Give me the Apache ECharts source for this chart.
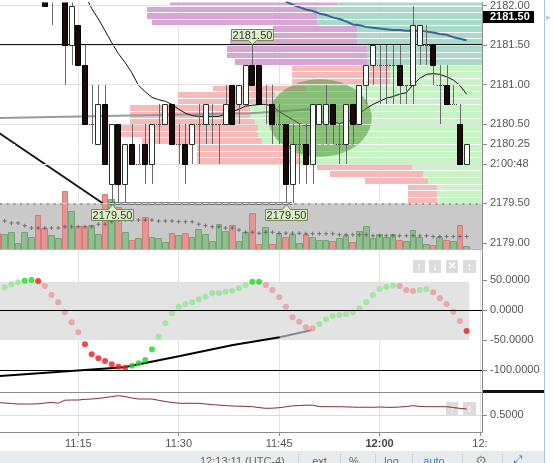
<!DOCTYPE html>
<html>
<head>
<meta charset="utf-8">
<script src="https://cdn.jsdelivr.net/npm/echarts@6.0.0/dist/echarts.min.js"></script>
<style>
html,body{margin:0;padding:0;background:#ffffff;}
#chart{width:553px;height:463px;}
</style>
</head>
<body>
<div id="chart"></div>
<script>
// ---------- DATA (x values are minutes after 11:00; first bar is 11:03) ----------
const firstMinute = 3;
const candleOpen  = [2182.75,2182.5,2182.75,2183.0,2183.0,2183.0,2183.25,2182.5,2182.25,2182.25,2182.25,2181.5,2181.75,2181.25,2180.5,2180.25,2180.75,2179.75,2180.5,2179.75,2180.25,2180.0,2180.25,2180.0,2180.5,2180.5,2180.75,2180.25,2180.25,2180.25,2180.5,2180.5,2180.5,2180.5,2180.5,2181.0,2180.75,2180.75,2181.25,2181.25,2180.75,2180.75,2180.5,2180.5,2179.75,2180.25,2180.25,2180.0,2180.5,2180.5,2180.75,2180.25,2180.25,2180.75,2180.5,2181.0,2181.25,2181.25,2181.25,2181.25,2181.25,2181.0,2181.0,2181.5,2181.5,2181.5,2181.0,2181.0,2180.75,2180.5,2180.0];
const candleHigh  = [2183.0,2182.75,2183.0,2183.25,2183.25,2183.5,2183.25,2182.5,2182.5,2182.75,2182.5,2182.25,2181.75,2181.5,2181.0,2181.0,2181.0,2180.5,2180.5,2180.25,2180.5,2180.25,2180.5,2180.5,2180.75,2180.75,2180.75,2180.5,2180.5,2180.5,2180.75,2180.75,2180.75,2180.5,2181.0,2181.0,2181.0,2181.25,2181.5,2181.25,2181.0,2181.0,2180.75,2180.5,2180.5,2180.5,2180.5,2180.75,2180.75,2181.0,2180.75,2180.5,2180.75,2180.75,2181.0,2181.25,2181.5,2181.5,2181.5,2181.5,2181.5,2181.0,2182.0,2181.75,2181.75,2181.5,2181.25,2181.25,2181.0,2180.75,2180.25];
const candleLow   = [2182.25,2182.5,2182.5,2182.75,2182.75,2183.0,2182.5,2182.0,2181.75,2182.25,2181.0,2181.25,2181.25,2180.5,2180.25,2180.25,2180.0,2179.5,2179.5,2179.5,2180.0,2180.0,2179.75,2179.75,2180.25,2180.5,2180.25,2180.0,2179.75,2180.0,2180.0,2180.25,2180.25,2180.0,2180.5,2180.5,2180.5,2180.75,2181.0,2180.75,2180.5,2180.25,2180.25,2179.5,2179.5,2179.75,2179.75,2179.75,2180.5,2180.25,2180.25,2180.0,2180.0,2180.25,2180.5,2180.75,2181.0,2180.75,2180.75,2180.75,2180.75,2180.75,2180.75,2181.25,2181.25,2181.0,2180.5,2180.75,2180.75,2180.0,2180.0];
const candleClose = [2182.5,2182.75,2183.0,2183.0,2183.25,2183.25,2182.5,2182.0,2182.5,2182.5,2181.5,2182.0,2181.25,2180.5,2180.5,2180.75,2180.0,2180.5,2179.75,2180.25,2180.0,2180.0,2180.0,2180.5,2180.5,2180.75,2180.25,2180.25,2180.0,2180.5,2180.5,2180.75,2180.5,2180.5,2180.75,2180.5,2181.0,2181.25,2181.0,2180.75,2180.75,2180.5,2180.5,2179.75,2180.25,2180.25,2180.0,2180.75,2180.75,2180.75,2180.5,2180.25,2180.75,2180.5,2181.0,2181.25,2181.5,2181.25,2181.25,2181.25,2181.0,2181.0,2181.75,2181.75,2181.5,2181.25,2181.0,2180.75,2180.75,2180.0,2180.25];
const volume      = [163,153,170,60,170,120,343,210,143,116,583,383,233,233,243,153,553,510,426,170,93,110,326,126,110,66,166,143,166,126,203,153,76,253,183,243,83,170,360,50,220,50,160,126,150,60,153,120,93,93,76,110,143,66,183,233,116,153,126,153,93,76,193,126,50,43,126,86,76,243,26];
const volumeAvg   = [null,283,263,263,236,213,213,213,213,213,226,226,226,226,226,250,250,276,293,293,293,293,293,293,283,283,283,276,276,276,250,236,226,226,213,213,193,170,170,160,170,170,160,160,160,160,153,153,153,153,153,143,143,143,143,143,133,133,133,133,133,133,133,133,133,126,126,126,126,126,126];
const cciValues   = [null,37.8,42.8,46.2,48.8,50,48.3,40,25,12.8,-3.8,-20.5,-37.2,-57.2,-73.8,-80.5,-85,-90.5,-94.5,-96.2,-92.8,-88.8,-83.3,-65.5,-44.5,-22.2,-5.5,5.5,9.5,12.8,17.8,22.2,27.8,27.8,30.5,32.2,36.2,41.7,47.2,47.2,41.7,33.3,21.3,5.5,-12.2,-19.5,-28.8,-30.5,-23.3,-15.5,-10,-8.3,-6.7,-3.8,2.8,12.8,25,35,38.8,40.5,40,33.3,31.7,33.3,34.5,29.5,19.5,10,-2.8,-18.3,-35];
const lowerValues = [0.624,0.62,0.615,0.61,0.61,0.61,0.612,0.62,0.626,0.618,0.648,0.65,0.65,0.657,0.66,0.666,0.674,0.684,0.693,0.685,0.67,0.66,0.66,0.66,0.647,0.635,0.625,0.618,0.617,0.617,0.617,0.61,0.604,0.599,0.594,0.59,0.588,0.586,0.583,0.574,0.567,0.568,0.573,0.582,0.591,0.595,0.598,0.598,0.584,0.583,0.583,0.583,0.581,0.579,0.577,0.578,0.577,0.58,0.577,0.577,0.58,0.585,0.593,0.586,0.583,0.583,0.583,0.583,0.575,0.566,0.56];
const maFastStart = 16;
const maFast = [2182.14,2181.96,2181.83,2181.68,2181.53,2181.39,2181.28,2181.15,2180.99,2180.91,2180.84,2180.81,2180.79,2180.75,2180.69,2180.64,2180.61,2180.60,2180.60,2180.60,2180.60,2180.63,2180.66,2180.69,2180.73,2180.74,2180.75,2180.75,2180.73,2180.66,2180.61,2180.56,2180.51,2180.48,2180.50,2180.53,2180.53,2180.53,2180.51,2180.53,2180.56,2180.63,2180.70,2180.75,2180.79,2180.83,2180.85,2180.88,2180.90,2181.00,2181.08,2181.13,2181.14,2181.13,2181.10,2181.06,2180.99,2180.88];
const maSlowStart = 46;
const maSlow = [2182.05,2182.01,2181.98,2181.95,2181.93,2181.90,2181.88,2181.85,2181.83,2181.80,2181.76,2181.75,2181.73,2181.72,2181.71,2181.70,2181.69,2181.69,2181.68,2181.68,2181.68,2181.67,2181.66,2181.64,2181.63,2181.60,2181.58,2181.56];
// volume profile rows (bottom price, 1/12 point per row): sell part and buy part
const profileBase = 2179.5;
const profileStep = 1 / 12;
const profileSell = [29,29,29,63,93,95,103,103,93,120,141,141,125,120,120,97,97,92,98,98,98,132,140,140,127,125,84,165,170,170,167];
const profileBuy  = [45,45,45,54,59,70,182,182,192,220,224,224,227,232,232,207,207,177,92,92,92,115,115,115,125,125,125,165,165,165,145];
// drawings
const levelTop = [[3.0, 2181.5], [75.3, 2181.5]];
const levelBottom = [[19.7, 2179.5], [46.9, 2179.5]];
const diagonal = [[3.0, 2180.40], [18.7, 2179.5]];
const grayTrend = [[3.0, 2180.58], [40.6, 2180.64], [49.6, 2180.69]];
const ellipseZone = [[51.1, 2180.58, 7.72, 0.49]];
const priceFlags = [[41, 2181.5, 1], [20, 2179.5, -1], [46, 2179.5, -1]];
const cciTrendDark = [[3.0, -110.2], [21.8, -95.5], [30.2, -76.7], [38.1, -58.3], [45.1, -45.5]];
const cciTrendLight = [[45.1, -45.5], [49.9, -33.3]];
const cciBand = [47, -50];
const lastPrice = 2180.25;
const priceTicks = [2179, 2179.5, 2180, 2180.25, 2180.5, 2181, 2181.5, 2182];
const priceGrid = [2179.5, 2180, 2180.5, 2181, 2181.5, 2182];
const cciTicks = [50, 0, -50, -100];
const lowerTicks = [0.5];
const timeTicks = [15, 30, 45, 60, 75];
const sideTags = [[2181.85, '2181.50'], [2180.0, '00:48']];

// ---------- LAYOUT ----------
const X_MIN = 3.305, X_MAX = 75.3;
const P_MIN = 2178.925, P_MAX = 2182.0375;
const FONT = 'Liberation Sans, Arial, sans-serif';
const idx = i => firstMinute + i;

const candleData = candleOpen.map((o, i) => [idx(i), o, candleHigh[i], candleLow[i], candleClose[i]]);
const volData = volume.map((v, i) => [idx(i), v, candleClose[i] >= candleOpen[i] ? 1 : 0]);
const volAvgData = volumeAvg.map((v, i) => [idx(i), v]);
const lowerData = lowerValues.map((v, i) => [idx(i), v]);
const maFastData = maFast.map((v, i) => [maFastStart + i, v]);
const maSlowData = maSlow.map((v, i) => [maSlowStart + i, v]);
const profileData = profileSell.map((s, k) => [profileBase + k * profileStep, profileBase + (k + 1) * profileStep, profileBuy[k], s]);

const cciData = [];
cciValues.forEach((v, i) => {
  if (v == null) return;
  const prev = i > 0 && cciValues[i - 1] != null ? cciValues[i - 1] : v - 1;
  const up = v >= prev;
  const strong = v > 47 || v < -50 || i === cciValues.length - 1;
  const color = up ? (strong ? '#1fd61f' : '#93e393') : (strong ? '#f01a1a' : '#e79a9a');
  cciData.push({value: [idx(i), v], itemStyle: {color: color}});
});

function timeLabel(v) {
  const m = Math.round(v);
  if (m === 75) return '12:';
  const h = 11 + Math.floor(m / 60), mm = m % 60;
  const s = h + ':' + String(mm).padStart(2, '0');
  return mm === 0 ? '{b|' + s + '}' : s;
}

function renderCandle(params, api) {
  const t = api.value(0), o = api.value(1), h = api.value(2), l = api.value(3), c = api.value(4);
  const pH = api.coord([t, h]), pL = api.coord([t, l]), pO = api.coord([t, o]), pC = api.coord([t, c]);
  const x = Math.round(pH[0]) + 0.5;
  const kids = [{type: 'line', shape: {x1: x, y1: Math.round(pH[1]), x2: x, y2: Math.round(pL[1])}, style: {stroke: '#6a6a6a', lineWidth: 1}}];
  if (o === c) {
    const y = Math.round(pO[1]) + 0.5;
    kids.push({type: 'line', shape: {x1: x - 3.5, y1: y, x2: x + 3.5, y2: y}, style: {stroke: '#444', lineWidth: 1, lineDash: [1, 1]}});
  } else {
    const y1 = Math.round(Math.min(pO[1], pC[1])) + 0.5, y2 = Math.round(Math.max(pO[1], pC[1])) + 0.5;
    const up = c > o;
    kids.push({type: 'rect', shape: {x: x - 3, y: y1, width: 5, height: y2 - y1},
      style: {fill: up ? '#ffffff' : '#1c0a0a', stroke: up ? '#243424' : '#000', lineWidth: 1}});
  }
  return {type: 'group', children: kids};
}

function renderVolume(params, api) {
  const t = api.value(0), v = api.value(1), up = api.value(2);
  const a = api.coord([t - 0.5, 0]), b = api.coord([t + 0.5, v]);
  const x0 = Math.round(a[0]) + 0.5, x1 = Math.round(b[0]) - 0.5;
  const y0 = Math.round(a[1]), y1 = Math.round(b[1]) + 0.5;
  return {type: 'rect', shape: {x: x0, y: y1, width: x1 - x0, height: y0 - y1 + 1},
    style: {fill: up ? '#8fbd8f' : '#e69595', stroke: up ? '#74a574' : '#d27c7c', lineWidth: 1}};
}

function renderProfile(params, api) {
  const lo = api.value(0), hi = api.value(1), buy = api.value(2), sell = api.value(3);
  const r = api.coord([0, lo]), m = api.coord([buy, hi]), l = api.coord([buy + sell, hi]);
  const yTop = Math.round(m[1]) + 1, yBot = Math.round(r[1]);
  const upper = lo >= 2181.25 - 1e-6;
  return {type: 'group', children: [
    {type: 'rect', shape: {x: Math.round(m[0]), y: yTop, width: Math.round(r[0]) - Math.round(m[0]), height: yBot - yTop},
      style: {fill: upper ? '#a9d9c8' : '#c8f3c5'}},
    {type: 'rect', shape: {x: Math.round(l[0]), y: yTop, width: Math.round(m[0]) - Math.round(l[0]), height: yBot - yTop},
      style: {fill: upper ? '#d9a5d5' : '#f7baba'}}
  ]};
}

function renderEllipse(params, api) {
  const c = api.coord([api.value(0), api.value(1)]);
  const s = api.size([api.value(2), api.value(3)]);
  return {type: 'ellipse', shape: {cx: c[0], cy: c[1], rx: s[0], ry: s[1]}, style: {fill: 'rgba(80,150,55,0.55)'}};
}

function renderFlag(params, api) {
  const t = api.value(0), p = api.value(1), dir = api.value(2);
  const c = api.coord([t, p]);
  const x = Math.round(c[0]) + 0.5, y = Math.round(c[1]) + 0.5;
  const w = 21, tipGap = 1;
  let pts, ty;
  if (dir > 0) {
    const b = y - 5, tp = y - 16;
    pts = [[x - w, tp], [x + w, tp], [x + w, b], [x + 4, b], [x, y - tipGap], [x - 4, b], [x - w, b]];
    ty = (tp + b) / 2;
  } else {
    const tp = y + 6, b = y + 17;
    pts = [[x - w, tp], [x - 4, tp], [x, y + tipGap], [x + 4, tp], [x + w, tp], [x + w, b], [x - w, b]];
    ty = (tp + b) / 2;
  }
  return {type: 'group', children: [
    {type: 'polygon', shape: {points: pts}, style: {fill: '#dcf0c8', stroke: '#6f8f52', lineWidth: 1}},
    {type: 'text', style: {text: p.toFixed(2), x: x, y: ty + 0.5, fill: '#333', font: '11px ' + FONT, align: 'center', verticalAlign: 'middle'}}
  ]};
}

function renderSideTag(params, api) {
  const p = api.coord([X_MAX, api.value(1)]);
  const y = Math.round(p[1]);
  const text = sideTags[params.dataIndex][1];
  if (params.dataIndex === 0) {
    return {type: 'group', children: [
      {type: 'rect', shape: {x: p[0] + 1, y: y - 6, width: 51, height: 12}, style: {fill: '#000'}},
      {type: 'text', style: {text: text, x: p[0] + 8, y: y, fill: '#fff', font: 'bold 11px ' + FONT, verticalAlign: 'middle'}}
    ]};
  }
  return {type: 'group', children: [
    {type: 'rect', shape: {x: p[0] + 17, y: y - 7, width: 34, height: 14}, style: {fill: '#fff'}},
    {type: 'text', style: {text: text, x: p[0] + 19, y: y, fill: '#555', font: '11px ' + FONT, verticalAlign: 'middle'}}
  ]};
}

const axisGray = '#8c8c8c';
const gridLineColor = '#e3e3e3';
const labelStyle = {color: '#555', fontSize: 11, fontFamily: FONT};

function timeAxis(grid, withLabels) {
  return {
    gridIndex: grid, type: 'value', min: X_MIN, max: X_MAX,
    axisLine: {show: withLabels, onZero: false, lineStyle: {color: axisGray}},
    axisTick: {show: withLabels, customValues: timeTicks, length: 4, lineStyle: {color: axisGray}},
    axisLabel: Object.assign({show: withLabels, customValues: timeTicks, formatter: timeLabel, margin: 6,
      rich: {b: {fontWeight: 'bold', color: '#444', fontSize: 11, fontFamily: FONT}}}, labelStyle),
    splitLine: {show: true, lineStyle: {color: gridLineColor}}
  };
}

const option = {
  animation: false,
  backgroundColor: '#ffffff',
  textStyle: {fontFamily: FONT},
  grid: [
    {left: 0, top: 0, width: 482, height: 249},
    {left: 0, top: 250, width: 482, height: 142},
    {left: 0, top: 392, width: 482, height: 40}
  ],
  xAxis: [
    timeAxis(0, false),
    timeAxis(1, false),
    timeAxis(2, true),
    {gridIndex: 0, type: 'value', min: 0, max: 482, inverse: true, show: false}
  ],
  yAxis: [
    {gridIndex: 0, type: 'value', position: 'right', min: P_MIN, max: P_MAX,
      axisLine: {show: true, lineStyle: {color: axisGray}},
      axisTick: {show: true, length: 5, customValues: priceTicks, lineStyle: {color: axisGray}},
      axisLabel: Object.assign({customValues: priceTicks, formatter: v => v.toFixed(2), margin: 8}, labelStyle),
      splitLine: {show: false}},
    {gridIndex: 0, type: 'value', min: 0, max: 2490, show: false},
    {gridIndex: 1, type: 'value', position: 'right', min: -136.67, max: 100,
      axisLine: {show: true, lineStyle: {color: axisGray}},
      axisTick: {show: true, length: 5, customValues: cciTicks, lineStyle: {color: axisGray}},
      axisLabel: Object.assign({customValues: cciTicks, formatter: v => v.toFixed(4), margin: 8}, labelStyle),
      splitLine: {show: false}},
    {gridIndex: 2, type: 'value', position: 'right', min: 0.33, max: 0.73,
      axisLine: {show: true, lineStyle: {color: axisGray}},
      axisTick: {show: true, length: 5, customValues: lowerTicks, lineStyle: {color: axisGray}},
      axisLabel: Object.assign({customValues: lowerTicks, formatter: v => v.toFixed(4), margin: 8}, labelStyle),
      splitLine: {show: false}}
  ],
  series: [
    // main-panel gridlines and volume band
    {type: 'line', xAxisIndex: 0, yAxisIndex: 0, data: [], z: 0, silent: true,
      markLine: {silent: true, symbol: 'none', label: {show: false},
        lineStyle: {color: gridLineColor, type: 'solid', width: 1},
        data: priceGrid.map(p => ({yAxis: p}))}},
    {type: 'custom', name: 'profile', xAxisIndex: 3, yAxisIndex: 0, z: 1, silent: true,
      renderItem: renderProfile, data: profileData, clip: true},
    {type: 'line', xAxisIndex: 0, yAxisIndex: 0, data: [], z: 1.5, silent: true,
      markArea: {silent: true, itemStyle: {color: '#c9c9c9'},
        data: [[{xAxis: X_MIN, yAxis: 2179.5}, {xAxis: X_MAX, yAxis: P_MIN}]]},
      markLine: {silent: true, symbol: 'none', label: {show: false},
        lineStyle: {color: '#9a9a9a', type: [2, 4.7], width: 2},
        data: [{yAxis: 2179.5}]}},
    {type: 'custom', name: 'volume', xAxisIndex: 0, yAxisIndex: 1, z: 2, silent: true,
      renderItem: renderVolume, data: volData, clip: true},
    {type: 'scatter', name: 'volume avg', xAxisIndex: 0, yAxisIndex: 1, z: 3, silent: true,
      symbol: 'path://M1.5,0h1v1.5h1.5v1h-1.5v1.5h-1v-1.5h-1.5v-1h1.5z', symbolSize: 4,
      itemStyle: {color: '#5a5a5a'}, data: volAvgData},
    {type: 'line', name: 'level top', xAxisIndex: 0, yAxisIndex: 0, z: 3, data: levelTop,
      showSymbol: false, lineStyle: {color: '#151515', width: 2}},
    {type: 'line', name: 'level bottom', xAxisIndex: 0, yAxisIndex: 0, z: 3, data: levelBottom,
      showSymbol: false, lineStyle: {color: '#151515', width: 2}},
    {type: 'line', name: 'diagonal', xAxisIndex: 0, yAxisIndex: 0, z: 3, data: diagonal,
      showSymbol: false, lineStyle: {color: '#151515', width: 2}},
    {type: 'line', name: 'gray trend', xAxisIndex: 0, yAxisIndex: 0, z: 3, data: grayTrend,
      showSymbol: false, lineStyle: {color: '#9a9a9a', width: 2}},
    {type: 'line', name: 'ma fast', xAxisIndex: 0, yAxisIndex: 0, z: 3, data: maFastData,
      showSymbol: false, lineStyle: {color: '#111', width: 1}},
    {type: 'line', name: 'ma slow', xAxisIndex: 0, yAxisIndex: 0, z: 3, data: maSlowData,
      showSymbol: false, lineStyle: {color: '#36659a', width: 2}},
    {type: 'custom', name: 'zone', xAxisIndex: 0, yAxisIndex: 0, z: 4, silent: true,
      renderItem: renderEllipse, data: ellipseZone, clip: true},
    {type: 'custom', name: 'candles', xAxisIndex: 0, yAxisIndex: 0, z: 5, silent: true,
      renderItem: renderCandle, data: candleData, clip: true},
    {type: 'line', name: 'last', xAxisIndex: 0, yAxisIndex: 0, data: [], z: 6, silent: true,
      markLine: {silent: true, symbol: 'none', label: {show: false},
        lineStyle: {color: '#ffffff', type: [3, 3], width: 1},
        data: [{yAxis: lastPrice}]}},
    {type: 'custom', name: 'flags', xAxisIndex: 0, yAxisIndex: 0, z: 7, silent: true,
      renderItem: renderFlag, data: priceFlags, clip: false},
    {type: 'custom', name: 'tags', xAxisIndex: 0, yAxisIndex: 0, z: 8, silent: true,
      renderItem: renderSideTag, data: sideTags.map(d => [X_MAX, d[0]]), clip: false},
    // panel 2
    {type: 'line', xAxisIndex: 1, yAxisIndex: 2, data: [], z: 1, silent: true,
      markArea: {silent: true, itemStyle: {color: '#e3e3e3'},
        data: [[{xAxis: X_MIN, yAxis: cciBand[0]}, {xAxis: 73.4, yAxis: cciBand[1]}]]},
      markLine: {silent: true, symbol: 'none', label: {show: false},
        lineStyle: {color: '#000', type: 'solid', width: 1},
        data: [{yAxis: 0}, {yAxis: -100}]}},
    {type: 'line', xAxisIndex: 1, yAxisIndex: 2, z: 3, data: cciTrendDark, showSymbol: false,
      lineStyle: {color: '#000', width: 2}},
    {type: 'line', xAxisIndex: 1, yAxisIndex: 2, z: 3, data: cciTrendLight, showSymbol: false,
      lineStyle: {color: '#8a8a8a', width: 2}},
    {type: 'scatter', name: 'cci', xAxisIndex: 1, yAxisIndex: 2, z: 4, symbolSize: 6, data: cciData},
    // panel 3
    {type: 'line', xAxisIndex: 2, yAxisIndex: 3, data: lowerData, z: 3, showSymbol: false,
      lineStyle: {color: '#8b2a2a', width: 1},
      markLine: {silent: true, symbol: 'none', label: {show: false},
        lineStyle: {color: '#dddddd', type: 'solid', width: 1}, data: [{yAxis: 0.5}]}}
  ],
  graphic: [
    {type: 'line', shape: {x1: 0, y1: 249.5, x2: 482, y2: 249.5}, style: {stroke: '#b5b5b5', lineWidth: 1}, z: 50},
    {type: 'line', shape: {x1: 0, y1: 392.5, x2: 482, y2: 392.5}, style: {stroke: '#8c8c8c', lineWidth: 1}, z: 50},
    {type: 'rect', shape: {x: 483, y: 390, width: 61, height: 3}, style: {fill: '#111'}, z: 50},
    {type: 'line', shape: {x1: 544.5, y1: 0, x2: 544.5, y2: 463}, style: {stroke: '#a8c6e4', lineWidth: 1}, z: 50},
    {type: 'text', style: {text: '\u25B8', x: 546, y: 13, fill: '#c0c0c0', font: '9px ' + FONT}, z: 50},
    // panel buttons
    {type: 'group', z: 50, children: [
      {type: 'rect', shape: {x: 413, y: 260, width: 12, height: 13}, style: {fill: '#dcdcdc'}},
      {type: 'text', style: {text: '\u2191', x: 419, y: 266.5, fill: '#fff', font: 'bold 11px ' + FONT, align: 'center', verticalAlign: 'middle'}},
      {type: 'rect', shape: {x: 429, y: 260, width: 12, height: 13}, style: {fill: '#dcdcdc'}},
      {type: 'text', style: {text: '\u2193', x: 435, y: 266.5, fill: '#fff', font: 'bold 11px ' + FONT, align: 'center', verticalAlign: 'middle'}},
      {type: 'rect', shape: {x: 446, y: 260, width: 12, height: 13}, style: {fill: '#dcdcdc'}},
      {type: 'text', style: {text: '\u2715', x: 452, y: 266.5, fill: '#fff', font: 'bold 10px ' + FONT, align: 'center', verticalAlign: 'middle'}},
      {type: 'rect', shape: {x: 463, y: 260, width: 13, height: 13}, style: {fill: '#dcdcdc'}},
      {type: 'text', style: {text: '\u2195', x: 469.5, y: 266.5, fill: '#fff', font: 'bold 11px ' + FONT, align: 'center', verticalAlign: 'middle'}},
      {type: 'rect', shape: {x: 446, y: 402, width: 12, height: 13}, style: {fill: '#dcdcdc'}},
      {type: 'text', style: {text: '\u2191', x: 452, y: 408.5, fill: '#fff', font: 'bold 11px ' + FONT, align: 'center', verticalAlign: 'middle'}},
      {type: 'rect', shape: {x: 463, y: 402, width: 13, height: 13}, style: {fill: '#dcdcdc'}},
      {type: 'text', style: {text: '\u2195', x: 469.5, y: 408.5, fill: '#fff', font: 'bold 11px ' + FONT, align: 'center', verticalAlign: 'middle'}}
    ]},
    // status bar
    {type: 'group', z: 60, children: [
      {type: 'rect', shape: {x: 0, y: 451, width: 544, height: 12}, style: {fill: '#e8ebee'}},
      {type: 'text', style: {text: '12:13:11 (UTC-4)', x: 200, y: 456, fill: '#666', font: '11px ' + FONT}},
      {type: 'line', shape: {x1: 298.5, y1: 454, x2: 298.5, y2: 463}, style: {stroke: '#cdd2d8'}},
      {type: 'text', style: {text: 'ext', x: 319.5, y: 456, fill: '#666', font: '11px ' + FONT, align: 'center'}},
      {type: 'line', shape: {x1: 340.5, y1: 454, x2: 340.5, y2: 463}, style: {stroke: '#cdd2d8'}},
      {type: 'text', style: {text: '%', x: 354, y: 456, fill: '#666', font: '11px ' + FONT, align: 'center'}},
      {type: 'line', shape: {x1: 375.5, y1: 454, x2: 375.5, y2: 463}, style: {stroke: '#cdd2d8'}},
      {type: 'text', style: {text: 'log', x: 391.5, y: 456, fill: '#3d7fd0', font: '11px ' + FONT, align: 'center'}},
      {type: 'line', shape: {x1: 412.5, y1: 454, x2: 412.5, y2: 463}, style: {stroke: '#cdd2d8'}},
      {type: 'text', style: {text: 'auto', x: 434, y: 456, fill: '#3d7fd0', font: '11px ' + FONT, align: 'center'}},
      {type: 'line', shape: {x1: 462.5, y1: 454, x2: 462.5, y2: 463}, style: {stroke: '#cdd2d8'}},
      {type: 'text', style: {text: '\u2699', x: 481, y: 455, fill: '#888', font: '13px DejaVu Sans', align: 'center'}},
      {type: 'line', shape: {x1: 502.5, y1: 454, x2: 502.5, y2: 463}, style: {stroke: '#cdd2d8'}},
      {type: 'text', style: {text: '\u2922', x: 518, y: 455, fill: '#3d7fd0', font: '11px DejaVu Sans', align: 'center'}}
    ]}
  ]
};

const chart = echarts.init(document.getElementById('chart'), null, {renderer: 'canvas', width: 553, height: 463});
chart.setOption(option);
</script>
</body>
</html>
